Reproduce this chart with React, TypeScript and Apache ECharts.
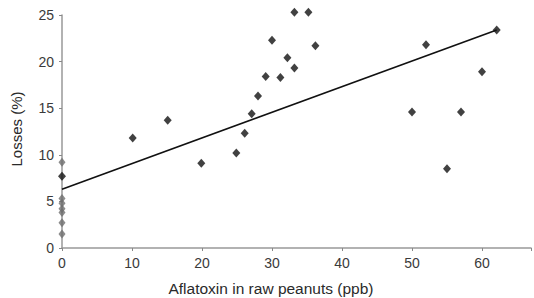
import React, { useEffect, useRef } from "react";
import * as echarts from "echarts";

// Samples with no detectable aflatoxin (plotted on the y-axis)
const zeroLossesGrey: number[] = [9.2, 5.3, 4.8, 4.2, 3.8, 2.7, 1.5];
const zeroLossesDark: number[] = [7.7];

// Samples with aflatoxin
const aflatoxinPpb: number[] = [10.1, 15.1, 19.9, 24.9, 26.1, 27.1, 28.0, 29.1, 30.0, 31.2, 32.2, 33.2, 33.2, 35.2, 36.2, 50.0, 52.0, 55.0, 57.0, 60.0, 62.1];
const lossesPct: number[] = [11.8, 13.7, 9.1, 10.2, 12.3, 14.4, 16.3, 18.4, 22.3, 18.3, 20.4, 25.3, 19.3, 25.3, 21.7, 14.6, 21.8, 8.5, 14.6, 18.9, 23.4];

// Regression line end points
const trendX: number[] = [0, 62.1];
const trendY: number[] = [6.3, 23.4];

const xTicks: number[] = [0, 10, 20, 30, 40, 50, 60];
const xAxisTitle = "Aflatoxin in raw peanuts (ppb)";
const yAxisTitle = "Losses (%)";

export default function App() {
  const ref = useRef<HTMLDivElement>(null);
  useEffect(() => {
    if (!ref.current) return;
    const chart = echarts.init(ref.current, null, { renderer: "svg" });
    const font = "'Liberation Sans', Arial, sans-serif";
    chart.setOption({
      animation: false,
      backgroundColor: "#ffffff",
      grid: { left: 62, right: 2, top: 15, bottom: 50, containLabel: false },
      xAxis: {
        type: "value",
        min: 0,
        max: 67,
        interval: 10,
        splitLine: { show: false },
        axisLine: { show: true, lineStyle: { color: "#999999", width: 1.5 } },
        axisTick: { show: true, length: 3, inside: false, lineStyle: { color: "#888888" } },
        axisLabel: {
          color: "#3a3a3a",
          fontSize: 14,
          fontFamily: font,
          margin: 8,
          formatter: (v: number) => (xTicks.includes(v) ? String(v) : ""),
        },
      },
      yAxis: {
        type: "value",
        min: 0,
        max: 25,
        interval: 5,
        splitLine: { show: false },
        axisLine: { show: true, lineStyle: { color: "#999999", width: 1.5 } },
        axisTick: { show: true, length: 3, lineStyle: { color: "#888888" } },
        axisLabel: { color: "#3a3a3a", fontSize: 14, fontFamily: font, margin: 8 },
      },
      graphic: [
        {
          type: "text",
          x: 271,
          y: 288,
          style: {
            text: xAxisTitle,
            fill: "#2a2a2a",
            font: `15.5px ${font}`,
            textAlign: "center",
            textVerticalAlign: "middle",
          },
        },
        {
          type: "text",
          x: 16,
          y: 129,
          rotation: Math.PI / 2,
          style: {
            text: yAxisTitle,
            fill: "#2a2a2a",
            font: `15px ${font}`,
            textAlign: "center",
            textVerticalAlign: "middle",
          },
        },
      ],
      series: [
        {
          type: "line",
          data: trendX.map((x, i) => [x, trendY[i]]),
          showSymbol: false,
          symbol: "none",
          clip: false,
          lineStyle: { color: "#111111", width: 1.6 },
          z: 2,
        },
        {
          type: "scatter",
          data: zeroLossesGrey.map((y) => [0, y]),
          symbol: "diamond",
          symbolSize: [7, 9],
          clip: false,
          itemStyle: { color: "#6e6e6e" },
          z: 3,
        },
        {
          type: "scatter",
          data: zeroLossesDark.map((y) => [0, y]),
          symbol: "diamond",
          symbolSize: [8, 9],
          clip: false,
          itemStyle: { color: "#111111" },
          z: 3,
        },
        {
          type: "scatter",
          data: aflatoxinPpb.map((x, i) => [x, lossesPct[i]]),
          symbol: "diamond",
          symbolSize: [8, 9],
          clip: false,
          itemStyle: { color: "#111111" },
          z: 3,
        },
      ],
    });
    return () => chart.dispose();
  }, []);
  return <div ref={ref} style={{ width: 534, height: 298, position: "absolute", left: 0, top: 0 }} />;
}
